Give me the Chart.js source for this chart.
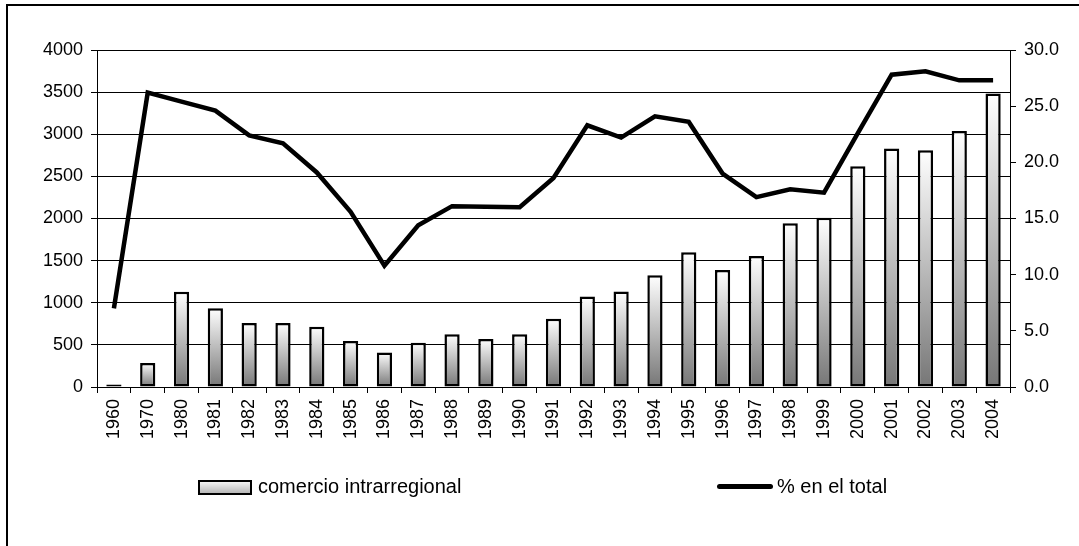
<!DOCTYPE html>
<html>
<head>
<meta charset="utf-8">
<script src="https://cdn.jsdelivr.net/npm/chart.js@4.4.1/dist/chart.umd.min.js"></script>
<style>
  html, body { margin: 0; padding: 0; background: #fff; overflow: hidden; }
  #marco { position: absolute; left: 6px; top: 4px; width: 1200px; height: 700px; border: 2px solid #000; }
  #grafico { position: absolute; left: 0; top: 0; }
  .leyenda { position: absolute; font-family: "Liberation Sans", Arial, sans-serif; font-size: 20px; color: #000; white-space: nowrap; }
  .caja { position: absolute; left: 198px; top: 480px; width: 50px; height: 11px; border: 2px solid #000;
          background: linear-gradient(to bottom, #f4f4f4, #b8b8b8); }
  .linea { position: absolute; left: 717px; top: 484px; width: 56px; height: 5px; border-radius: 3px; background: #000; }
</style>
</head>
<body>
<div id="marco"></div>
<canvas id="grafico" width="1079" height="546"></canvas>
<div class="caja"></div>
<div class="leyenda" style="left:258px; top:475px;">comercio intrarregional</div>
<div class="linea"></div>
<div class="leyenda" style="left:777px; top:475px;">% en el total</div>
<script>
const anios = ['1960', '1970', '1980', '1981', '1982', '1983', '1984', '1985', '1986', '1987', '1988', '1989', '1990', '1991',
    '1992', '1993', '1994', '1995', '1996', '1997', '1998', '1999', '2000', '2001', '2002', '2003', '2004'];
const comercio = [30, 285, 1130, 935, 760, 760, 715, 545, 410, 525, 625, 570, 625, 810,
    1075, 1135, 1325, 1600, 1390, 1555, 1945, 2010, 2620, 2830, 2810, 3040, 3485];
const porcentaje = [7.0, 26.2, 25.4, 24.6, 22.4, 21.7, 19.1, 15.6, 10.8, 14.4, 16.1, 16.05, 16.0, 18.6,
    23.3, 22.2, 24.1, 23.6, 19.0, 16.9, 17.6, 17.3, 22.6, 27.8, 28.1, 27.3, 27.3];

const fuente = { family: '"Liberation Sans", Arial, sans-serif', size: 18 };

function degradado(context) {
    const chart = context.chart;
    if (!chart.chartArea || context.parsed === undefined) {
        return '#bbbbbb';
    }
    const y = chart.scales.y;
    const arriba = y.getPixelForValue(context.parsed.y);
    const abajo = y.getPixelForValue(0);
    if (!isFinite(arriba) || abajo - arriba < 1) {
        return '#777777';
    }
    const g = chart.ctx.createLinearGradient(0, arriba, 0, abajo);
    g.addColorStop(0, '#ffffff');
    g.addColorStop(1, '#767676');
    return g;
}

const ctx = document.getElementById('grafico').getContext('2d');
const chart = new Chart(ctx, {
    data: {
        labels: anios,
        datasets: [
            {
                type: 'line',
                label: '% en el total',
                data: porcentaje,
                yAxisID: 'y2',
                borderColor: '#000',
                borderWidth: 4.5,
                pointRadius: 0,
                tension: 0,
                order: 0
            },
            {
                type: 'bar',
                label: 'comercio intrarregional',
                data: comercio,
                yAxisID: 'y',
                backgroundColor: degradado,
                borderColor: '#000',
                borderWidth: 2.5,
                borderSkipped: false,
                barPercentage: 0.9,
                categoryPercentage: 0.5,
                order: 1
            }
        ]
    },
    options: {
        responsive: false,
        animation: false,
        events: [],
        layout: { padding: { top: 50, left: 0, right: 0, bottom: 0 } },
        plugins: {
            legend: { display: false },
            tooltip: { enabled: false }
        },
        scales: {
            x: {
                grid: { offset: true, drawOnChartArea: false, color: '#000', tickLength: 6 },
                border: { color: '#000', width: 1 },
                ticks: { color: '#000', font: fuente, minRotation: 90, maxRotation: 90, padding: 6, autoSkip: false },
                afterFit: function (scale) { scale.height = 159; }
            },
            y: {
                position: 'left',
                min: 0,
                max: 4000,
                ticks: {
                    stepSize: 500, color: '#000', font: fuente, padding: 8,
                    callback: function (v) { return String(v); }
                },
                grid: { color: '#000', tickLength: 6 },
                border: { color: '#000', width: 1 },
                afterFit: function (scale) { scale.width = 97; }
            },
            y2: {
                position: 'right',
                min: 0,
                max: 30,
                ticks: {
                    stepSize: 5, color: '#000', font: fuente, padding: 8,
                    callback: function (v) { return v.toFixed(1); }
                },
                grid: { drawOnChartArea: false, color: '#000', tickLength: 6 },
                border: { color: '#000', width: 1 },
                afterFit: function (scale) { scale.width = 69; }
            }
        }
    }
});
</script>
</body>
</html>
